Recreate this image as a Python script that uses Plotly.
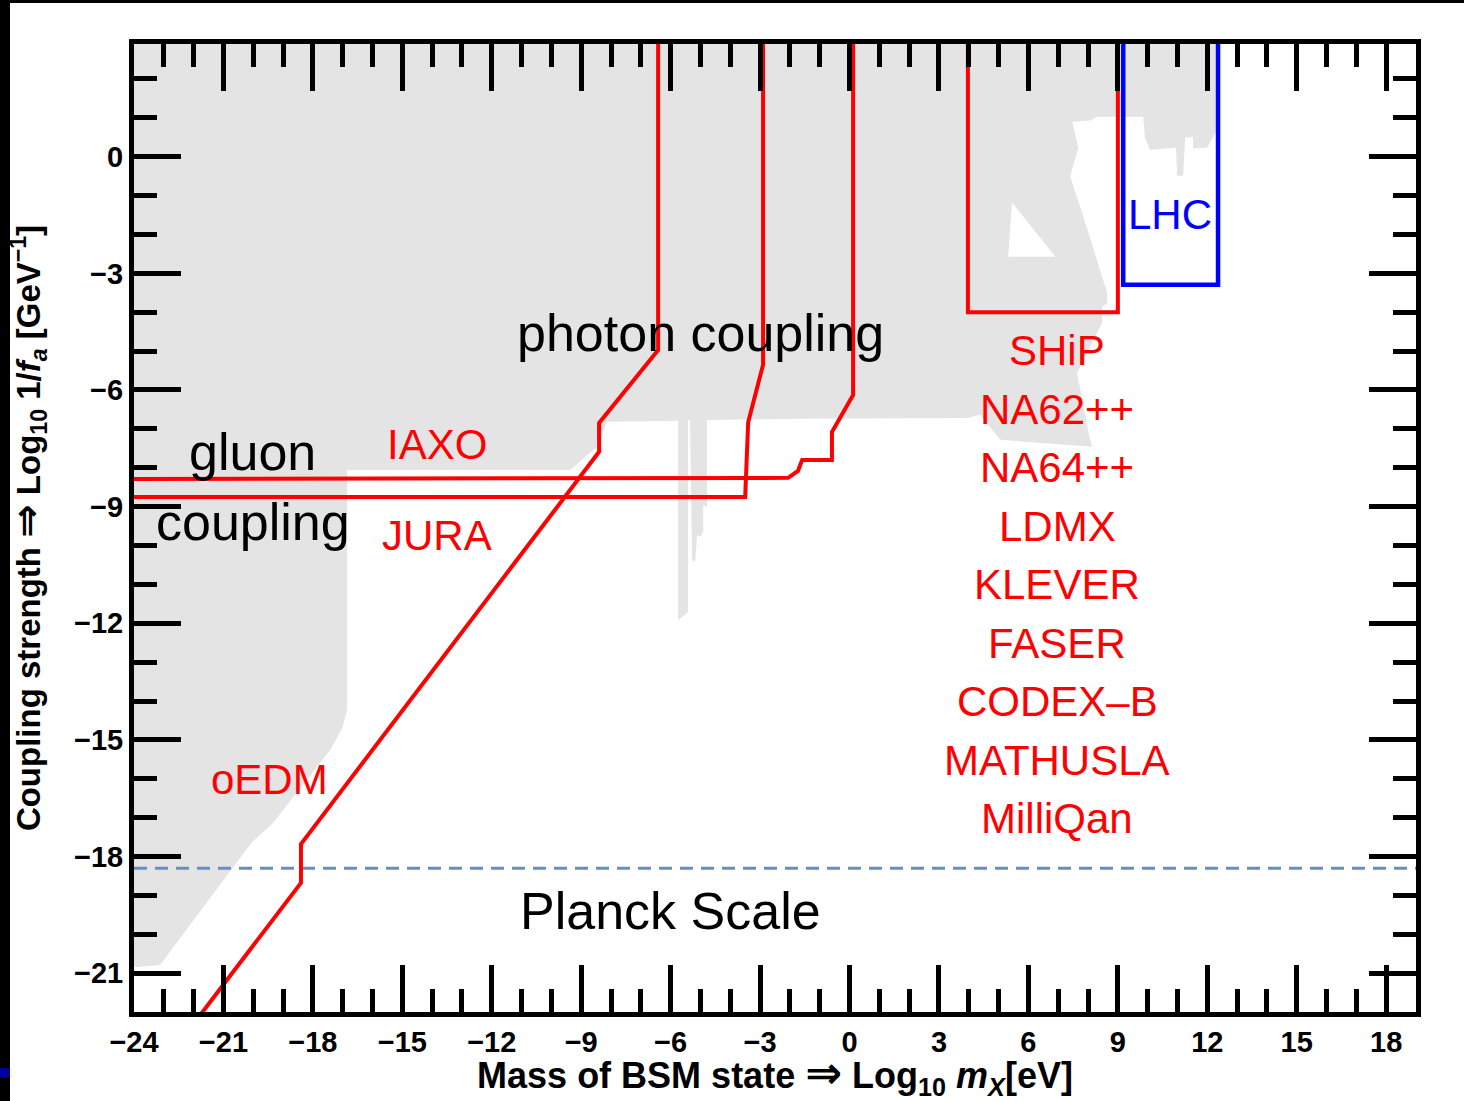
import plotly.graph_objects as go

# ---------------- data (log10 mass [eV], log10 coupling [GeV^-1]) ----------------
x_range = [-24, 19]
y_range = [-22, 2.9]

# excluded (grey) region outline
excluded_x = [-24, 12.35, 12.33, 11.99, 11.52, 11.52, 11.26, 11.19, 10.99, 10.95, 10.08, 9.91, 9.85,
              8.30, 8.07, 7.47, 7.67, 7.40, 7.84, 8.64, 8.64, 8.47, 8.47, 7.63, 8.07, 8.14, 5.05,
              4.38, 3.94, -1.76, -4.78, -4.78, -4.91, -4.91, -5.01, -5.11, -5.18, -5.28, -5.35,
              -5.42, -5.42, -5.75, -5.75, -8.13, -8.47, -9.37, -16.85, -16.85, -17.02, -17.42,
              -19.34, -20.04, -23.13, -23.90, -24]
excluded_y = [3, 3, 0.69, 0.23, 0.21, 0.51, 0.49, -0.49, -0.49, 0.23, 0.18, 0.49, 1.03,
              1.03, 0.93, 0.90, 0.23, -0.51, -1.54, -3.50, -3.76, -3.86, -4.27, -5.56, -7.28, -7.46, -7.28,
              -6.64, -6.72, -6.74, -6.77, -9.01, -8.96, -9.65, -9.78, -9.73, -10.42, -10.37, -6.77,
              -6.77, -11.71, -11.92, -6.79, -6.82, -7.46, -8.06, -8.06, -14.23, -14.70, -15.26,
              -17.14, -17.63, -20.79, -20.85, -20.85]

# allowed (white) pocket inside the excluded region
pocket_x = [5.45, 5.32, 6.90]
pocket_y = [-1.18, -2.57, -2.57]

# projected sensitivities
oedm_x = [-22.0, -18.40, -18.40, -8.40, -8.40, -6.42, -6.42]
oedm_y = [-22.3, -18.68, -17.68, -7.59, -6.85, -4.97, 3.0]

iaxo_x = [-24, -2.06, -1.73, -1.59, -0.59, -0.59, 0.12, 0.12]
iaxo_y = [-8.29, -8.26, -8.08, -7.80, -7.80, -7.08, -6.13, 3.0]

jura_x = [-24, -3.50, -3.40, -2.90, -2.90]
jura_y = [-8.75, -8.75, -6.83, -5.35, 3.0]

ship_x = [3.97, 3.97, 9.0, 9.0]
ship_y = [3.0, -4.0, -4.0, 3.0]

lhc_x = [9.18, 9.18, 12.36, 12.36]
lhc_y = [3.0, -3.29, -3.29, 3.0]

planck_y = -18.3

experiments = ["SHiP", "NA62++", "NA64++", "LDMX", "KLEVER", "FASER", "CODEX–B", "MATHUSLA", "MilliQan"]

# ---------------- figure ----------------
FONT = "Liberation Sans, Arial, DejaVu Sans"
RED = "#ff0000"
BLUE = "#0000ff"
GREY = "#e4e4e4"

fig = go.Figure()

fig.add_trace(go.Scatter(x=excluded_x, y=excluded_y, mode="lines", fill="toself",
                         fillcolor=GREY, line=dict(width=0, color=GREY), hoverinfo="skip"))
fig.add_trace(go.Scatter(x=pocket_x, y=pocket_y, mode="lines", fill="toself",
                         fillcolor="white", line=dict(width=0, color="white"), hoverinfo="skip"))

fig.add_trace(go.Scatter(x=list(x_range), y=[planck_y, planck_y], mode="lines",
                         line=dict(color="#6a8cc2", width=3, dash="13px,8px"), hoverinfo="skip"))

for xs, ys in [(oedm_x, oedm_y), (iaxo_x, iaxo_y), (jura_x, jura_y), (ship_x, ship_y)]:
    fig.add_trace(go.Scatter(x=xs, y=ys, mode="lines",
                             line=dict(color=RED, width=4), hoverinfo="skip"))
fig.add_trace(go.Scatter(x=lhc_x, y=lhc_y, mode="lines",
                         line=dict(color=BLUE, width=4.5), hoverinfo="skip"))

# ---------------- text labels ----------------
def label(x, y, text, color, size):
    fig.add_annotation(x=x, y=y, xref="x", yref="y", text=text, showarrow=False,
                       font=dict(family=FONT, size=size, color=color),
                       xanchor="center", yanchor="middle")

label(-20.01, -7.59, "gluon", "black", 52)
label(-20.01, -9.39, "coupling", "black", 52)
label(-5.01, -4.53, "photon coupling", "black", 52)
label(-6.02, -19.40, "Planck Scale", "black", 52)
label(-13.84, -7.41, "IAXO", RED, 42)
label(-13.84, -9.73, "JURA", RED, 42)
label(-19.44, -16.01, "oEDM", RED, 42)
label(10.75, -1.49, "LHC", BLUE, 42)

exp_label_y = [-4.99, -6.51, -8.00, -9.50, -11.01, -12.51, -14.00, -15.52, -17.02]
for name, yy in zip(experiments, exp_label_y):
    label(6.96, yy, name, RED, 42)

# ---------------- axes ----------------
tickfont = dict(family=FONT, size=29, color="black", weight="bold")

common = dict(tickmode="linear", dtick=3, ticks="inside", ticklen=47, tickwidth=5,
              tickcolor="black", showline=True, linewidth=5, linecolor="black",
              mirror="ticks", showgrid=False, zeroline=False, tickfont=tickfont,
              automargin=False,
              minor=dict(ticks="inside", dtick=1, ticklen=23, tickwidth=5,
                         tickcolor="black", showgrid=False))

fig.update_xaxes(range=x_range, tick0=-24,
                 title=dict(text="Mass of BSM state <span style='font-size:44px'>⇒</span> Log<sub>10</sub> <i>m<sub>X</sub></i>[eV]",
                            font=dict(family=FONT, size=36, color="black", weight="bold"),
                            standoff=20),
                 **common)
fig.update_yaxes(range=y_range, tick0=0,
                 title=dict(text="Coupling strength <span style='font-size:40px'>⇒</span> Log<sub>10</sub> 1/<i>f<sub>a</sub></i> [GeV<sup>−1</sup>]",
                            font=dict(family=FONT, size=33, color="black", weight="bold"),
                            standoff=25),
                 **common)

# screenshot border decorations
W, H = 1464, 1101
L, R, T, B = 134, 48, 44, 89
pw, ph = W - L - R, H - T - B
def px(xp): return (xp - L) / pw
def py(yp): return (H - B - yp) / ph
fig.add_shape(type="rect", xref="paper", yref="paper", x0=px(0), x1=px(10), y0=py(H), y1=py(0),
              fillcolor="black", line=dict(width=0), layer="above")
fig.add_shape(type="rect", xref="paper", yref="paper", x0=px(0), x1=px(W), y0=py(3), y1=py(0),
              fillcolor="black", line=dict(width=0), layer="above")
fig.add_shape(type="rect", xref="paper", yref="paper", x0=px(0), x1=px(10), y0=py(1077), y1=py(1068),
              fillcolor="#0000a0", line=dict(width=0), layer="above")

fig.update_layout(width=W, height=H, margin=dict(l=L, r=R, t=T, b=B),
                  paper_bgcolor="white", plot_bgcolor="white", showlegend=False,
                  hovermode=False)

fig.write_html("out.html", config={"displayModeBar": False},
               post_script="document.body.style.margin='0';document.body.style.overflow='hidden';")
